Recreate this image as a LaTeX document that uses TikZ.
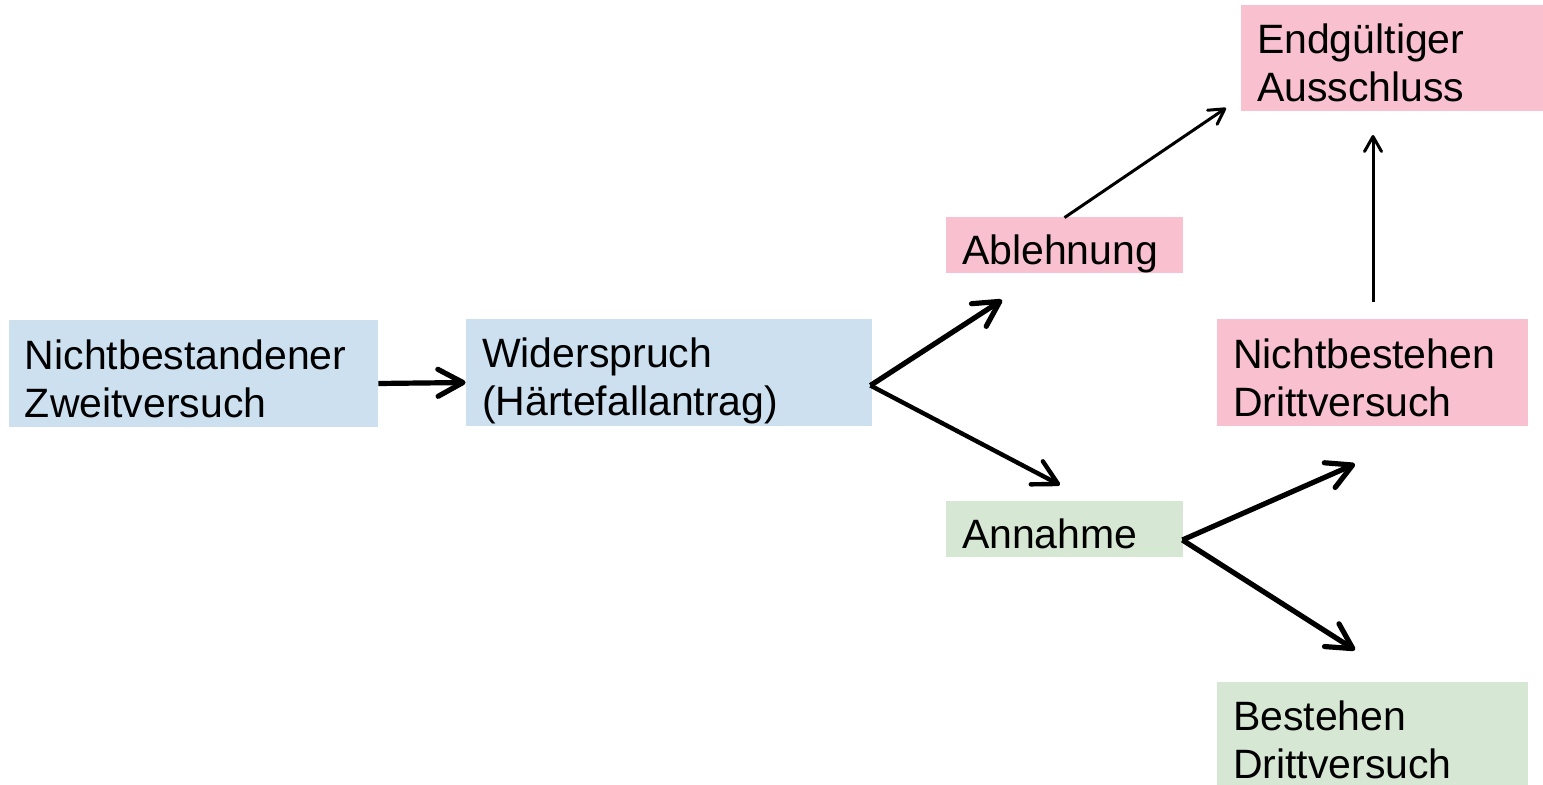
\documentclass[tikz,border=0pt]{standalone}
\usepackage{fontspec}
\setmainfont{Liberation Sans}
\usetikzlibrary{arrows.meta,calc}
\definecolor{bluebox}{RGB}{204,224,240}
\definecolor{pinkbox}{RGB}{249,193,207}
\definecolor{greenbox}{RGB}{214,232,212}
\tikzset{
  box/.style={draw=none,inner sep=0pt,minimum width=#1},
  lbl/.style={anchor=north west,inner sep=0pt,align=left,font=\fontsize{20.5}{24}\selectfont},
  bigarrow/.style={line width=2.6pt,-{Straight Barb[length=12.5pt,width=13.5pt,round]}},
  midarrow/.style={line width=2.2pt,-{Straight Barb[length=12pt,width=13pt,round]}},
  thinarrow/.style={line width=1.5pt,-{Straight Barb[length=7.5pt,width=8.5pt,round]}}
}
\begin{document}
\begin{tikzpicture}[x=0.5pt,y=-0.5pt]
\useasboundingbox (0,0) rectangle (1543,785);
\begin{scope}
\clip (0,0) rectangle (1543,785);
% boxes
\node[box=184.5pt,minimum height=53.5pt,fill=bluebox] (n1) at (193.5,373.5) {};
\node[box=203pt,minimum height=53.5pt,fill=bluebox] (n2) at (669,372.5) {};
\node[box=118.5pt,minimum height=28pt,fill=pinkbox] (n3) at (1064.5,245) {};
\node[box=118.5pt,minimum height=28pt,fill=greenbox] (n4) at (1064.5,529) {};
\node[box=151pt,minimum height=53pt,fill=pinkbox] (n5) at (1392,58) {};
\node[box=155.5pt,minimum height=53.5pt,fill=pinkbox] (n6) at (1372.5,372.5) {};
\node[box=155.5pt,minimum height=53pt,fill=greenbox] (n7) at (1372.5,735) {};
\end{scope}
% labels
\node[lbl] (l1) at ($(n1.north west)+(16,20)$) {Nichtbestandener\\Zweitversuch};
\node[lbl] (l2) at ($(n2.north west)+(16,19)$) {Widerspruch\\(Härtefallantrag)};
\node[lbl] (l3) at ($(n3.north west)+(16,18)$) {Ablehnung};
\node[lbl] (l4) at ($(n4.north west)+(16,18)$) {Annahme};
\node[lbl] (l5) at ($(n5.north west)+(16,19)$) {Endgültiger\\Ausschluss};
\node[lbl] (l6) at ($(n6.north west)+(16,20)$) {Nichtbestehen\\Drittversuch};
\node[lbl] (l7) at ($(n7.north west)+(16,19)$) {Bestehen\\Drittversuch};
% free arrow ends
\coordinate (t2) at (1002,300);
\coordinate (t3) at (1060,485);
\coordinate (t4) at (1226,108);
\coordinate (s5) at (1373,302);
\coordinate (t5) at (1373,135);
\coordinate (t6) at (1355,464);
\coordinate (t7) at (1355,650);
% arrows
\draw[bigarrow] ($(n1.east)+(0,10)$) -- ($(n2.west)+(0,10)$);
\draw[bigarrow] ($(n2.east)+(-2,13)$) -- (t2);
\draw[midarrow] ($(n2.east)+(-2,13)$) -- (t3);
\draw[thinarrow] ($(n3.north)+(0,1)$) -- (t4);
\draw[thinarrow] (s5) -- (t5);
\draw[bigarrow] ($(n4.east)+(-1,11)$) -- (t6);
\draw[bigarrow] ($(n4.east)+(-1,11)$) -- (t7);
\end{tikzpicture}
\end{document}
